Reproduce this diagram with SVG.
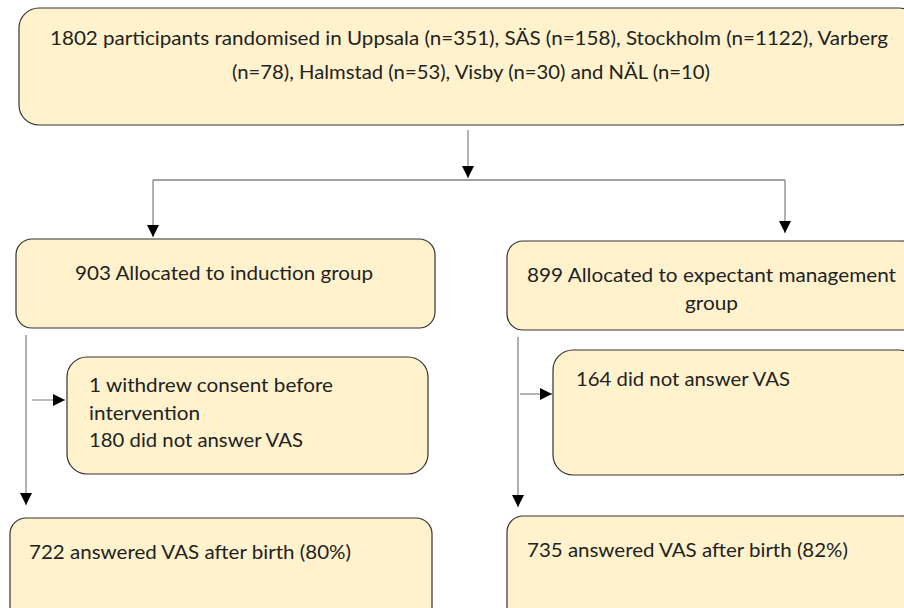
<svg xmlns="http://www.w3.org/2000/svg" width="904" height="608" viewBox="0 0 904 608">
<style>
.box{fill:#FFF2CC;stroke:#333;stroke-width:1.2}
.t{font-family:Lato,"Open Sans","Liberation Sans",sans-serif;font-size:19px;fill:#222}
.ln{stroke:#7f7f7f;stroke-width:1.2;fill:none}
</style>
<defs>
<marker id="ah" viewBox="0 0 12 12" refX="12" refY="6" markerWidth="12" markerHeight="12" markerUnits="userSpaceOnUse" orient="auto">
<path d="M0,0 L12,6 L0,12 Z" fill="#000"/>
</marker>
</defs>
<g id="connectors">
<line class="ln" x1="468" y1="130" x2="468" y2="178" marker-end="url(#ah)"/>
<line class="ln" x1="153" y1="180" x2="785" y2="180" style="stroke:#444"/>
<line class="ln" x1="153" y1="180" x2="153" y2="237" marker-end="url(#ah)"/>
<line class="ln" x1="785" y1="180" x2="785" y2="233" marker-end="url(#ah)"/>
<line class="ln" x1="26" y1="335" x2="26" y2="505" marker-end="url(#ah)"/>
<line class="ln" x1="32" y1="400" x2="65" y2="400" marker-end="url(#ah)"/>
<line class="ln" x1="518" y1="337" x2="518" y2="507" marker-end="url(#ah)"/>
<line class="ln" x1="520" y1="394" x2="552" y2="394" marker-end="url(#ah)"/>
</g>
<g id="n1">
<rect class="box" x="19" y="8" width="900" height="117" rx="20"/>
<text class="t" x="50" y="45" textLength="838" lengthAdjust="spacingAndGlyphs">1802 participants randomised in Uppsala (n=351), SÄS (n=158), Stockholm (n=1122), Varberg</text>
<text class="t" x="232" y="79" textLength="478" lengthAdjust="spacingAndGlyphs">(n=78), Halmstad (n=53), Visby (n=30) and NÄL (n=10)</text>
</g>
<g id="n2">
<rect class="box" x="16" y="239" width="419" height="89" rx="16"/>
<text class="t" x="75" y="280" textLength="298" lengthAdjust="spacingAndGlyphs">903 Allocated to induction group</text>
</g>
<g id="n3">
<rect class="box" x="507" y="241" width="412" height="89" rx="16"/>
<text class="t" x="527" y="282" textLength="369" lengthAdjust="spacingAndGlyphs">899 Allocated to expectant management</text>
<text class="t" x="685" y="310" textLength="53" lengthAdjust="spacingAndGlyphs">group</text>
</g>
<g id="n4">
<rect class="box" x="67" y="357" width="361" height="117" rx="20"/>
<text class="t" x="89" y="392" textLength="244" lengthAdjust="spacingAndGlyphs">1 withdrew consent before</text>
<text class="t" x="89" y="420" textLength="111" lengthAdjust="spacingAndGlyphs">intervention</text>
<text class="t" x="89" y="447" textLength="214" lengthAdjust="spacingAndGlyphs">180 did not answer VAS</text>
</g>
<g id="n5">
<rect class="box" x="553" y="350" width="366" height="125" rx="20"/>
<text class="t" x="576" y="386" textLength="214" lengthAdjust="spacingAndGlyphs">164 did not answer VAS</text>
</g>
<g id="n6">
<rect class="box" x="10" y="518" width="422" height="110" rx="16"/>
<text class="t" x="29" y="559" textLength="322" lengthAdjust="spacingAndGlyphs">722 answered VAS after birth (80%)</text>
</g>
<g id="n7">
<rect class="box" x="507" y="516" width="412" height="112" rx="16"/>
<text class="t" x="527" y="557" textLength="321" lengthAdjust="spacingAndGlyphs">735 answered VAS after birth (82%)</text>
</g>
</svg>
